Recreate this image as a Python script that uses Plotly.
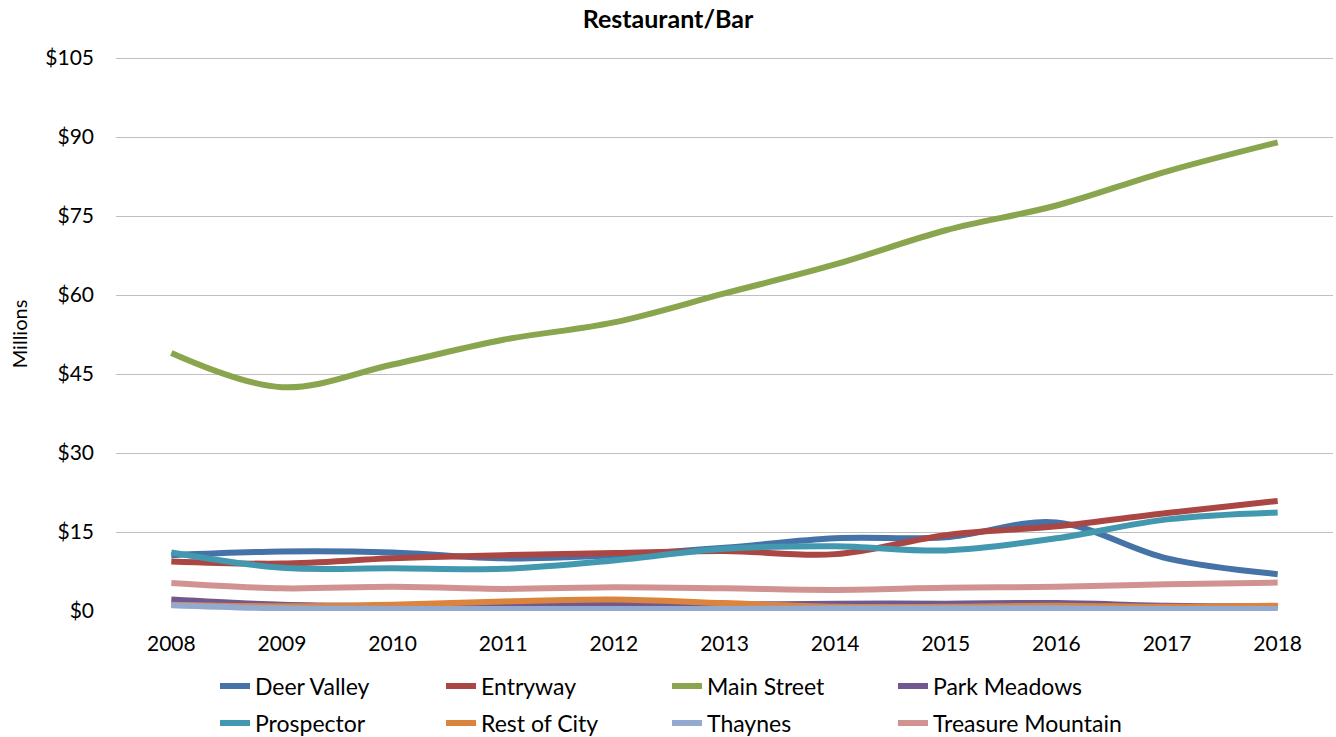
import plotly.graph_objects as go

years = [2008, 2009, 2010, 2011, 2012, 2013, 2014, 2015, 2016, 2017, 2018]

deer_valley = [10.6, 11.3, 11.1, 10.0, 10.6, 12.0, 13.8, 14.0, 16.8, 10.0, 7.0]
entryway = [9.4, 9.0, 10.0, 10.6, 11.0, 11.4, 10.8, 14.4, 16.1, 18.6, 20.9]
main_street = [49.0, 42.5, 46.8, 51.5, 54.8, 60.3, 65.8, 72.3, 77.0, 83.5, 89.0]
park_meadows = [2.2, 1.2, 1.0, 1.0, 1.2, 1.2, 1.4, 1.4, 1.5, 1.0, 0.9]
prospector = [11.1, 8.2, 8.1, 8.0, 9.6, 11.8, 12.3, 11.5, 13.8, 17.4, 18.7]
rest_of_city = [1.2, 0.9, 1.2, 1.8, 2.2, 1.5, 0.8, 0.8, 1.0, 0.8, 1.0]
thaynes = [1.1, 0.5, 0.4, 0.4, 0.4, 0.4, 0.5, 0.5, 0.5, 0.4, 0.4]
treasure_mountain = [5.3, 4.3, 4.6, 4.2, 4.5, 4.3, 4.0, 4.4, 4.6, 5.1, 5.4]

series_names = ["Deer Valley", "Entryway", "Main Street", "Park Meadows",
                "Prospector", "Rest of City", "Thaynes", "Treasure Mountain"]
series_values = [deer_valley, entryway, main_street, park_meadows,
                 prospector, rest_of_city, thaynes, treasure_mountain]
series_colors = ["#4572A7", "#AA4643", "#89A54E", "#71588F",
                 "#4198AF", "#DB843D", "#93A9CF", "#D19392"]

y_tickvals = [0, 15, 30, 45, 60, 75, 90, 105]
y_ticktext = ["$0", "$15", "$30", "$45", "$60", "$75", "$90", "$105"]

FONT = "Lato, 'Open Sans', sans-serif"

W, H = 1336, 737
L, R, T, B = 116, 3, 57, 126
PW = W - L - R
PH = H - T - B

def px_x(x):
    return (x - L) / PW

def px_y(y):
    return (H - B - y) / PH

legend_cols = [215, 441, 667, 893]
legend_rows = [686, 723]

fig = go.Figure()
legend_layout = {}
for i, (name, vals, col) in enumerate(zip(series_names, series_values, series_colors)):
    key = "legend" if i == 0 else f"legend{i + 1}"
    fig.add_trace(go.Scatter(
        x=years, y=vals, name=name, mode="lines",
        line=dict(color=col, width=6, shape="spline", smoothing=1.0),
        legend=key,
    ))
    legend_layout[key] = dict(
        orientation="h", xanchor="left", yanchor="middle",
        x=px_x(legend_cols[i % 4]), y=px_y(legend_rows[i // 4]),
        font=dict(size=23, family=FONT, color="#000000"),
        itemwidth=30, bgcolor="rgba(0,0,0,0)",
    )

fig.update_layout(
    width=W, height=H,
    paper_bgcolor="white", plot_bgcolor="white",
    margin=dict(l=L, r=R, t=T, b=B, autoexpand=False),
    font=dict(family=FONT, size=21, color="#000000"),
    title=dict(text="<b>Restaurant/Bar</b>", x=0.5, xanchor="center",
               xref="container", yref="container",
               y=1 - 19 / H, yanchor="middle", font=dict(size=25, family=FONT)),
    xaxis=dict(range=[2007.5, 2018.5], tickvals=years,
               ticktext=[str(y) for y in years], showgrid=False,
               zeroline=False, showline=False, ticks="",
               tickfont=dict(size=21), ticklabelstandoff=18),
    yaxis=dict(range=[0, 105.2], tickvals=y_tickvals, ticktext=y_ticktext,
               showgrid=True, gridcolor="#BFBFBF", gridwidth=1,
               zeroline=False, showline=False, ticks="",
               tickfont=dict(size=21), ticklabelstandoff=21,
               title=dict(text="Millions", font=dict(size=20), standoff=12)),
    showlegend=True,
    **legend_layout,
)

fig.write_html("out.html", config={"displayModeBar": False},
               post_script="document.body.style.margin='0px';")
